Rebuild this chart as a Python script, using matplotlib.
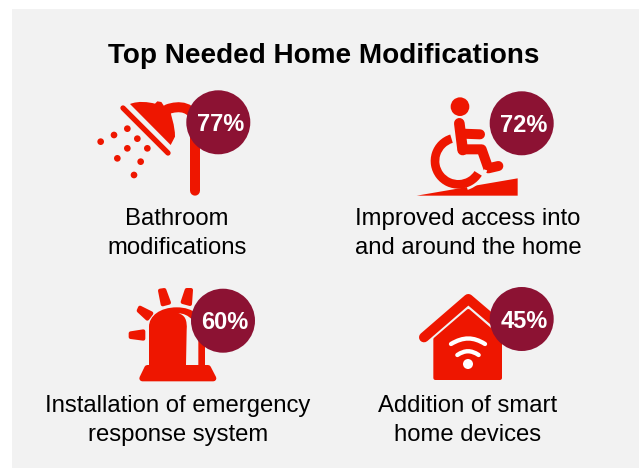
import matplotlib
matplotlib.use("Agg")
import matplotlib.pyplot as plt
from matplotlib.patches import Circle, Polygon, PathPatch, Rectangle, Wedge
from matplotlib.path import Path

plt.rcParams['font.family'] = ['Liberation Sans', 'DejaVu Sans']

TITLE = "Top Needed Home Modifications"
categories = ["Bathroom\nmodifications",
              "Improved access into\nand around the home",
              "Installation of emergency\nresponse system",
              "Addition of smart\nhome devices"]
shares = [77, 72, 60, 45]

RED = "#EE1600"
WINE = "#8C1233"
BG = "#F2F2F2"
PX = 0.72  # one pixel in points at 100 dpi

fig = plt.figure(figsize=(6.39, 4.68), dpi=100, facecolor="white")
ax = fig.add_axes([0, 0, 1, 1])
ax.set_xlim(0, 639)
ax.set_ylim(468, 0)
ax.axis("off")
ax.add_patch(Rectangle((12, 9), 627, 459, fc=BG, ec="none", zorder=0))


class Icon:
    """Draws in a local 3x grid anchored at a pixel origin."""
    def __init__(self, ox, oy):
        self.ox, self.oy = ox, oy

    def p(self, pts):
        return [(self.ox + x / 3, self.oy + y / 3) for x, y in pts]

    def poly(self, pts, color=RED, round_px=0, z=2):
        ax.add_patch(Polygon(self.p(pts), closed=True, fc=color,
                             ec=color if round_px else "none",
                             lw=round_px * PX, joinstyle="round", zorder=z))

    def line(self, pts, w, color=RED, z=2, cap="round"):
        xy = self.p(pts)
        ax.plot([a for a, _ in xy], [b for _, b in xy], color=color, lw=w / 3 * PX,
                solid_capstyle=cap, solid_joinstyle="round", zorder=z)

    def dot(self, x, y, r, color=RED, z=2):
        ax.add_patch(Circle((self.ox + x / 3, self.oy + y / 3), r / 3, fc=color, ec="none", zorder=z))

    def ring(self, cx, cy, r, t1, t2, width, color=RED, z=2):
        ax.add_patch(Wedge((self.ox + cx / 3, self.oy + cy / 3), r / 3, t1, t2,
                           width=width / 3, fc=color, ec="none", zorder=z))

    def curve(self, verts, codes, w=None, color=RED, z=2, fill=False):
        path = Path(self.p(verts), codes)
        ax.add_patch(PathPatch(path, fc=color if fill else "none",
                               ec="none" if fill else color,
                               lw=0 if fill else w / 3 * PX, capstyle="round", zorder=z))


M, L, C4 = Path.MOVETO, Path.LINETO, Path.CURVE4

# shower
s = Icon(80, 80)
s.curve([(345, 332), (345, 135), (345, 76), (295, 76), (262, 88)],
        [M, L, C4, C4, C4], w=30)
s.curve([(150, 72), (175, 62), (205, 66), (225, 71), (232, 64), (244, 66), (252, 78),
         (262, 92), (272, 95), (272, 105), (285, 135), (285, 170), (272, 195), (150, 72)],
        [M, C4, C4, C4, L, L, L, L, L, C4, C4, C4, L, L], fill=True)
s.line([(129, 84), (264, 219)], 16)
for x, y in [(142, 146), (102, 165), (62, 185), (172, 176), (142, 205), (202, 205),
             (112, 235), (182, 245), (162, 285)]:
    s.dot(x, y, 10)

# wheelchair on a ramp
w = Icon(400, 85)
w.dot(180, 65, 28)
w.line([(178, 115), (188, 195)], 32)
w.line([(188, 146), (240, 148)], 30)
w.line([(188, 193), (245, 193), (265, 250), (295, 243)], 30)
w.poly([(50, 332), (353, 280), (353, 332)])
w.ring(175, 228, 91, 18, 72, 10, color=BG, z=3)
w.ring(175, 228, 83, 32, 253, 26, z=4)

# siren
a = Icon(110, 280)
a.curve([(117, 255), (117, 140), (117, 108), (150, 82), (200, 82), (250, 82), (285, 108),
         (285, 170), (285, 255), (117, 255)], [M, L, C4, C4, C4, C4, C4, C4, L, L], fill=True)
a.curve([(205, 100), (225, 105), (232, 120), (230, 150), (228, 255), (265, 255), (265, 180),
         (265, 125), (235, 100), (205, 100)], [M, C4, C4, C4, L, L, L, C4, C4, C4], fill=True, color=BG, z=3)
a.poly([(112, 264), (294, 264), (310, 295), (97, 295)], round_px=6, z=4)
a.poly([(62, 160), (100, 154), (100, 176), (62, 171)], round_px=4)
a.poly([(90, 83), (124, 100), (112, 116), (86, 92)], round_px=4)
a.poly([(150, 32), (163, 30), (177, 68), (158, 73)], round_px=4)
a.poly([(230, 30), (243, 30), (240, 72), (218, 66)], round_px=4)

# smart home
h = Icon(400, 280)
h.line([(72, 172), (205, 57), (320, 155)], 30)
h.poly([(106, 178), (205, 93), (300, 175), (300, 294), (106, 294)], round_px=4)
h.dot(204, 252, 15, color="white", z=3)
h.curve([(153, 192), (190, 170), (220, 170), (255, 192)], [M, C4, C4, C4], w=13, color="white", z=3)
h.curve([(172, 225), (195, 210), (213, 210), (236, 225)], [M, C4, C4, C4], w=13, color="white", z=3)

# percentage badges and captions
badge_xy = [(218.3, 122.3), (521.7, 123.3), (223, 320.7), (521.7, 319)]
caption_xy = [(177, 233.5), (468, 233.5), (178, 420.5), (468, 420.5)]
for share, cat, (bx, by), (cx, cy) in zip(shares, categories, badge_xy, caption_xy):
    ax.add_patch(Circle((bx, by), 32, fc=WINE, ec="none", zorder=5))
    ax.text(bx + 2.2, by + 2, f"{share}%", color="white", fontsize=17, fontweight="bold",
            ha="center", va="center", zorder=6)
    ax.text(cx, cy, cat, color="black", fontsize=17.2, ha="center", va="center",
            linespacing=1.38, zorder=6)

ax.text(324, 56, TITLE, color="black", fontsize=20.1, fontweight="bold", ha="center", va="center")

fig.savefig("out.png", dpi=100, facecolor="white")
